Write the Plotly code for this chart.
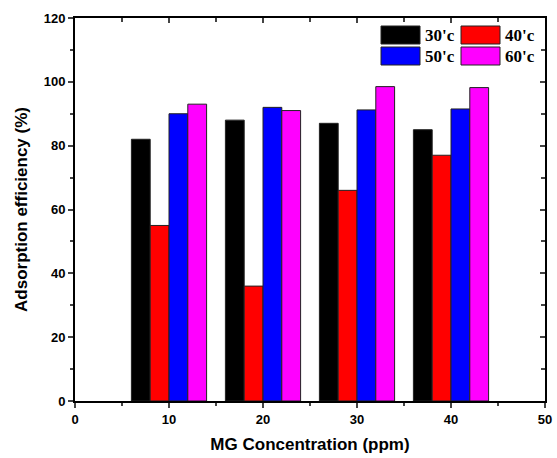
import plotly.graph_objects as go

concentrations = [10, 20, 30, 40]
series_names = ["30'c", "40'c", "50'c", "60'c"]
series_colors = ["#000000", "#ff0000", "#0000ff", "#ff00ff"]
eff_30 = [82, 88, 87, 85]
eff_40 = [55, 36, 66, 77]
eff_50 = [90, 92, 91.2, 91.5]
eff_60 = [93, 91, 98.5, 98.2]
series_values = [eff_30, eff_40, eff_50, eff_60]
x_ticks = [0, 10, 20, 30, 40, 50]
y_ticks = [0, 20, 40, 60, 80, 100, 120]

W, H = 557, 458
L, R, T, B = 75, 12, 18, 57
PW, PH = W - L - R, H - T - B

fig = go.Figure()
for name, col, vals in zip(series_names, series_colors, series_values):
    fig.add_trace(go.Bar(x=concentrations, y=vals, name=name,
                         marker=dict(color=col, line=dict(color="#222222", width=1)),
                         showlegend=False))

tick_font = dict(family="Liberation Sans, Arial", size=13, color="black", weight="bold")
title_font = dict(family="Liberation Sans, Arial", size=17, color="black", weight="bold")
fig.update_layout(
    width=W, height=H,
    margin=dict(l=L, r=R, t=T, b=B, autoexpand=False),
    paper_bgcolor="white", plot_bgcolor="white",
    barmode="group", bargap=0.2, bargroupgap=0,
    xaxis=dict(range=[0, 50], tickvals=x_ticks, ticks="outside", ticklen=5, tickwidth=2,
               showline=True, linewidth=2, linecolor="black", showgrid=False, zeroline=False,
               automargin=False, tickfont=tick_font,
               minor=dict(ticks="outside", ticklen=3, tickwidth=2, dtick=5, tick0=0),
               title=dict(text="MG Concentration (ppm)", standoff=13, font=title_font)),
    yaxis=dict(range=[0, 120], tickvals=y_ticks, ticks="outside", ticklen=5, tickwidth=2,
               showline=True, linewidth=2, linecolor="black", showgrid=False, zeroline=False,
               automargin=False, tickfont=tick_font,
               minor=dict(ticks="outside", ticklen=3, tickwidth=2, dtick=10, tick0=0),
               title=dict(text="Adsorption efficiency (%)", standoff=12, font=title_font)),
    xaxis2=dict(overlaying="x", matches="x", side="top", range=[0, 50], tickvals=x_ticks,
                ticks="inside", ticklen=5, tickwidth=2, showticklabels=False, automargin=False,
                showline=True, linewidth=2, linecolor="black", showgrid=False, zeroline=False,
                minor=dict(ticks="inside", ticklen=4, tickwidth=2, dtick=5, tick0=0)),
    yaxis2=dict(overlaying="y", matches="y", side="right", range=[0, 120], tickvals=y_ticks,
                ticks="inside", ticklen=5, tickwidth=2, showticklabels=False, automargin=False,
                showline=True, linewidth=2, linecolor="black", showgrid=False, zeroline=False,
                minor=dict(ticks="inside", ticklen=4, tickwidth=2, dtick=10, tick0=0)),
)
fig.add_trace(go.Scatter(x=[0], y=[0], xaxis="x2", yaxis="y2", mode="markers",
                         marker=dict(opacity=0), showlegend=False, hoverinfo="skip"))

def px2paper(px, py):
    return (px - L) / PW, (H - B - py) / PH

legend_boxes = [(381, 26), (461, 26), (381, 47), (461, 47)]
for (bx, by), name, col in zip(legend_boxes, series_names, series_colors):
    x0, y1 = px2paper(bx, by)
    x1, y0 = px2paper(bx + 39, by + 18)
    fig.add_shape(type="rect", xref="paper", yref="paper", x0=x0, x1=x1, y0=y0, y1=y1,
                  fillcolor=col, line=dict(color="#222222", width=1))
    tx, ty = px2paper(bx + 42, by + 9)
    fig.add_annotation(xref="paper", yref="paper", x=tx, y=ty, text="<b>" + name + "</b>",
                       showarrow=False, xanchor="left", yanchor="middle",
                       font=dict(family="Liberation Serif, Times New Roman", size=17, color="black"))

fig.write_html("out.html", config={"displayModeBar": False},
               post_script="document.body.style.margin='0';document.body.style.overflow='hidden';")
